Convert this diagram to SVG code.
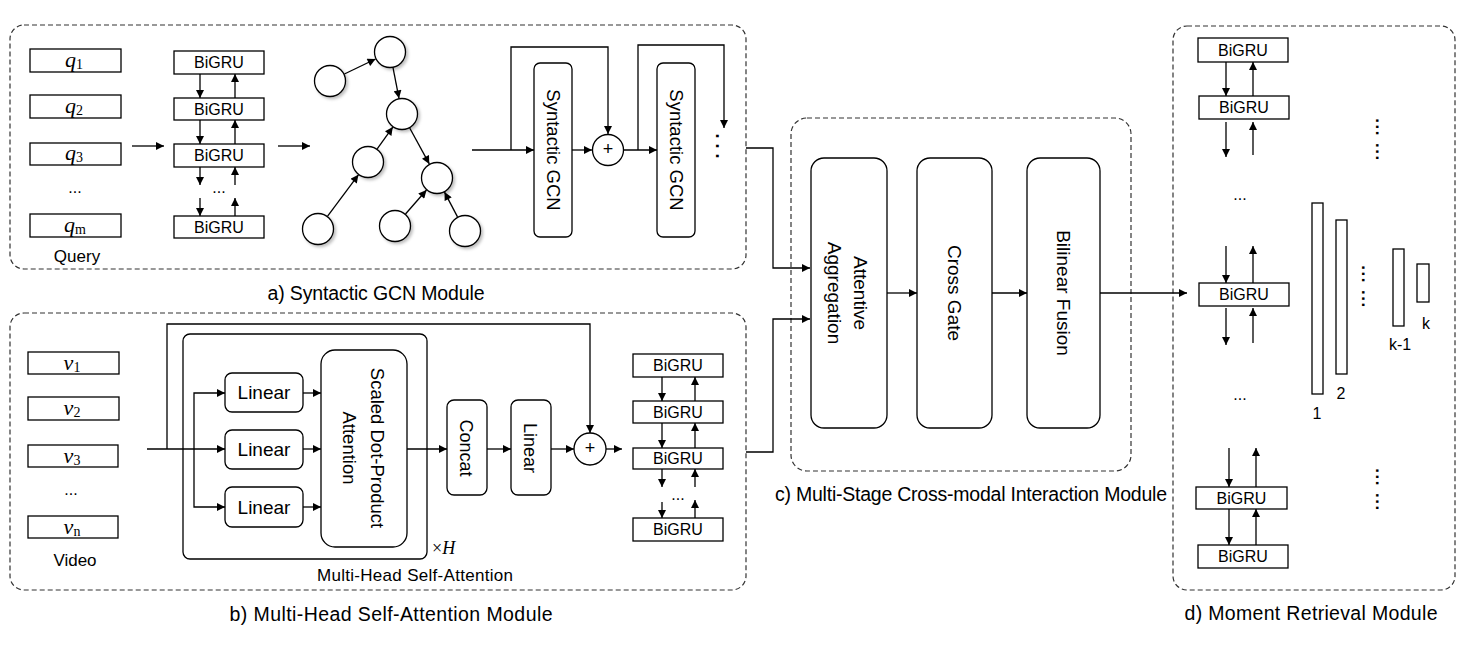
<svg xmlns="http://www.w3.org/2000/svg" width="1466" height="645" viewBox="0 0 1466 645">
<style>
.box{fill:#fff;stroke:#000;stroke-width:1.3}
.dash{fill:none;stroke:#333;stroke-width:1.2;stroke-dasharray:5 3}
.ln{fill:none;stroke:#000;stroke-width:1.3}
.a{marker-end:url(#ah)}
.t{font-family:"Liberation Sans",Arial,sans-serif;fill:#000;text-anchor:middle;dominant-baseline:central}
.cap{font-family:"Liberation Sans",Arial,sans-serif;fill:#000;text-anchor:middle;dominant-baseline:central;font-size:19.5px}
.m{font-family:"Liberation Serif","Times New Roman",serif;font-style:italic;font-size:22px;fill:#000;text-anchor:middle}
.sub{font-style:normal;font-size:14px}
.vd{font-family:"Liberation Sans",Arial,sans-serif;font-weight:bold;font-size:17px;letter-spacing:1.5px;fill:#000;text-anchor:middle;dominant-baseline:central}
.node{fill:#fff;stroke:#000;stroke-width:1.3;filter:url(#sh)}
</style>
<defs>
<marker id="ah" viewBox="0 0 10 10" refX="10" refY="5" markerWidth="9" markerHeight="8" markerUnits="userSpaceOnUse" orient="auto"><path d="M0,0 L10,5 L0,10 z" fill="#000"/></marker>
<filter id="sh" x="-30%" y="-30%" width="170%" height="170%"><feDropShadow dx="2" dy="2" stdDeviation="1.5" flood-color="#000" flood-opacity="0.25"/></filter>
</defs>
<rect width="1466" height="645" fill="#fff"/>

<!-- Module a -->
<g id="module-a">
<rect class="dash" x="10" y="25" width="736" height="244" rx="14"/>
<text class="cap" x="376" y="293" textLength="217">a) Syntactic GCN Module</text>
</g>
<g id="q1"><rect class="box" x="30" y="49" width="91" height="23"/><text class="m" x="74" y="67">q<tspan class="sub" dy="2">1</tspan></text></g>
<g id="q2"><rect class="box" x="30" y="95" width="91" height="23"/><text class="m" x="74" y="113">q<tspan class="sub" dy="2">2</tspan></text></g>
<g id="q3"><rect class="box" x="30" y="143" width="91" height="22"/><text class="m" x="74" y="160">q<tspan class="sub" dy="2">3</tspan></text></g>
<g id="qdots"><text class="t" x="75" y="187" font-size="16">...</text></g>
<g id="qm"><rect class="box" x="30" y="214" width="91" height="23"/><text class="m" x="75" y="232">q<tspan class="sub" dy="2">m</tspan></text></g>
<g id="query-label"><text class="t" x="77" y="256" font-size="17">Query</text></g>

<g id="qgru1"><rect class="box" x="174" y="51" width="90" height="23"/><text class="t" x="219" y="62.5" font-size="16">BiGRU</text></g>
<g id="qgru2"><rect class="box" x="174" y="98" width="90" height="22"/><text class="t" x="219" y="109" font-size="16">BiGRU</text></g>
<g id="qgru3"><rect class="box" x="174" y="144" width="90" height="23"/><text class="t" x="219" y="155.5" font-size="16">BiGRU</text></g>
<g id="qgrudots"><text class="t" x="219" y="187" font-size="16">...</text></g>
<g id="qgru4"><rect class="box" x="174" y="216" width="90" height="22"/><text class="t" x="219" y="227" font-size="16">BiGRU</text></g>

<g id="tree">
<circle class="node" cx="330" cy="81" r="15.5"/>
<circle class="node" cx="390" cy="52" r="15.5"/>
<circle class="node" cx="402" cy="114" r="15.5"/>
<circle class="node" cx="368" cy="162" r="15.5"/>
<circle class="node" cx="437" cy="178" r="15.5"/>
<circle class="node" cx="318" cy="229" r="15.5"/>
<circle class="node" cx="395" cy="226" r="15.5"/>
<circle class="node" cx="465" cy="231" r="15.5"/>
</g>

<g id="gcn1"><rect class="box" x="534" y="63" width="38" height="174" rx="6"/><text class="t" font-size="18.5" transform="translate(553,150) rotate(90)">Syntactic GCN</text></g>
<g id="plus1"><circle class="box" cx="608" cy="150" r="15.5"/><text class="t" x="608" y="149" font-size="18">+</text></g>
<g id="gcn2"><rect class="box" x="657" y="63" width="38" height="174" rx="6"/><text class="t" font-size="18.5" transform="translate(676,150) rotate(90)">Syntactic GCN</text></g>
<g id="gcndots"><text class="t" font-size="18" font-weight="bold" transform="translate(722,146) rotate(90)">. . .</text></g>

<!-- Module b -->
<g id="module-b">
<rect class="dash" x="10" y="313" width="736" height="277" rx="14"/>
<text class="cap" x="391" y="614" textLength="323">b) Multi-Head Self-Attention Module</text>
</g>
<g id="v1"><rect class="box" x="28" y="352" width="91" height="22"/><text class="m" x="72" y="370">v<tspan class="sub" dy="2">1</tspan></text></g>
<g id="v2"><rect class="box" x="28" y="397" width="91" height="23"/><text class="m" x="72" y="415">v<tspan class="sub" dy="2">2</tspan></text></g>
<g id="v3"><rect class="box" x="28" y="445" width="90" height="22"/><text class="m" x="72" y="463">v<tspan class="sub" dy="2">3</tspan></text></g>
<g id="vdots"><text class="t" x="71" y="489" font-size="16">...</text></g>
<g id="vn"><rect class="box" x="28" y="516" width="90" height="22"/><text class="m" x="72" y="534">v<tspan class="sub" dy="2">n</tspan></text></g>
<g id="video-label"><text class="t" x="75" y="560" font-size="17">Video</text></g>

<g id="mhsa">
<rect class="box" x="183" y="334" width="244" height="225" rx="7"/>
<text class="t" x="415" y="575" font-size="17" textLength="196">Multi-Head Self-Attention</text>
<text x="432" y="554" font-family="Liberation Serif,serif" font-size="18">×<tspan font-style="italic">H</tspan></text>
</g>
<g id="linear1"><rect class="box" x="225" y="373" width="78" height="39" rx="7"/><text class="t" x="264" y="392.5" font-size="19">Linear</text></g>
<g id="linear2"><rect class="box" x="225" y="430" width="78" height="39" rx="7"/><text class="t" x="264" y="449.5" font-size="19">Linear</text></g>
<g id="linear3"><rect class="box" x="225" y="487" width="78" height="40" rx="7"/><text class="t" x="264" y="507" font-size="19">Linear</text></g>
<g id="sdpa"><rect class="box" x="321" y="350" width="86" height="197" rx="14"/>
<text class="t" font-size="18.5" transform="translate(377,448) rotate(90)">Scaled Dot-Product</text>
<text class="t" font-size="18.5" transform="translate(349,448) rotate(90)">Attention</text></g>
<g id="concat"><rect class="box" x="447" y="400" width="40" height="95" rx="7"/><text class="t" font-size="18" transform="translate(466,448) rotate(90)">Concat</text></g>
<g id="linear4"><rect class="box" x="511" y="400" width="40" height="95" rx="7"/><text class="t" font-size="18" transform="translate(530,448) rotate(90)">Linear</text></g>
<g id="plus2"><circle class="box" cx="590" cy="449" r="16"/><text class="t" x="590" y="448" font-size="18">+</text></g>

<g id="vgru1"><rect class="box" x="633" y="354" width="90" height="23"/><text class="t" x="678" y="365.5" font-size="16">BiGRU</text></g>
<g id="vgru2"><rect class="box" x="633" y="401" width="90" height="22"/><text class="t" x="678" y="412" font-size="16">BiGRU</text></g>
<g id="vgru3"><rect class="box" x="633" y="448" width="90" height="21"/><text class="t" x="678" y="458.5" font-size="16">BiGRU</text></g>
<g id="vgrudots"><text class="t" x="678" y="494" font-size="16">...</text></g>
<g id="vgru4"><rect class="box" x="633" y="518" width="90" height="23"/><text class="t" x="678" y="529.5" font-size="16">BiGRU</text></g>

<!-- Module c -->
<g id="module-c">
<rect class="dash" x="791" y="118" width="340" height="353" rx="16"/>
<text class="cap" x="971" y="494" textLength="392">c) Multi-Stage Cross-modal Interaction Module</text>
</g>
<g id="attagg"><rect class="box" x="811" y="158" width="76" height="270" rx="13"/>
<text class="t" font-size="19" transform="translate(860,293) rotate(90)">Attentive</text>
<text class="t" font-size="19" transform="translate(834,293) rotate(90)">Aggregation</text></g>
<g id="crossgate"><rect class="box" x="917" y="158" width="75" height="270" rx="13"/><text class="t" font-size="19" transform="translate(954,293) rotate(90)">Cross Gate</text></g>
<g id="bilinear"><rect class="box" x="1027" y="158" width="73" height="270" rx="13"/><text class="t" font-size="19" transform="translate(1063,293) rotate(90)">Bilinear Fusion</text></g>

<!-- Module d -->
<g id="module-d">
<rect class="dash" x="1173" y="26" width="282" height="564" rx="14"/>
<text class="cap" x="1311" y="613" textLength="253">d) Moment Retrieval Module</text>
</g>
<g id="dgru1"><rect class="box" x="1198" y="38" width="90" height="24"/><text class="t" x="1243" y="50" font-size="16">BiGRU</text></g>
<g id="dgru2"><rect class="box" x="1199" y="96" width="90" height="23"/><text class="t" x="1244" y="107.5" font-size="16">BiGRU</text></g>
<g id="dgrudots1"><text class="t" x="1240" y="194" font-size="16">...</text></g>
<g id="dgru3"><rect class="box" x="1199" y="283" width="90" height="23"/><text class="t" x="1244" y="294.5" font-size="16">BiGRU</text></g>
<g id="dgrudots2"><text class="t" x="1240" y="394" font-size="16">...</text></g>
<g id="dgru4"><rect class="box" x="1196" y="487" width="91" height="22"/><text class="t" x="1241.5" y="498" font-size="16">BiGRU</text></g>
<g id="dgru5"><rect class="box" x="1198" y="545" width="90" height="23"/><text class="t" x="1243" y="556.5" font-size="16">BiGRU</text></g>

<g id="bar1"><rect class="box" x="1312" y="203" width="11" height="191"/><text class="t" x="1317" y="413" font-size="16">1</text></g>
<g id="bar2"><rect class="box" x="1336" y="220" width="11" height="154"/><text class="t" x="1341" y="393" font-size="16">2</text></g>
<g id="bark1"><rect class="box" x="1393" y="249" width="11" height="77"/><text class="t" x="1400" y="344" font-size="16">k-1</text></g>
<g id="bark"><rect class="box" x="1417" y="264" width="12" height="38"/><text class="t" x="1426" y="323" font-size="16">k</text></g>
<g id="ddots">
<text class="vd" transform="translate(1381,140) rotate(90)">... ...</text>
<text class="vd" transform="translate(1367,287) rotate(90)">... ...</text>
<text class="vd" transform="translate(1381,490) rotate(90)">... ...</text>
</g>

<!-- Connectors -->
<g id="connectors">
<path class="ln a" d="M132,146 H164"/>
<path class="ln a" d="M200,74 V98"/><path class="ln a" d="M235,98 V74"/>
<path class="ln a" d="M200,120 V144"/><path class="ln a" d="M235,144 V120"/>
<path class="ln a" d="M200,167 V185"/><path class="ln a" d="M235,185 V167"/>
<path class="ln a" d="M200,198 V216"/><path class="ln a" d="M235,216 V198"/>
<path class="ln a" d="M278,146 H310"/>
<path class="ln a" d="M344.4,74 L375.6,59"/>
<path class="ln a" d="M393,67.7 L399,98.3"/>
<path class="ln a" d="M377.2,148.9 L392.8,127.1"/>
<path class="ln a" d="M409.7,128 L429.3,163.9"/>
<path class="ln a" d="M327.6,216.2 L358.4,174.8"/>
<path class="ln a" d="M405.5,214 L426.5,190"/>
<path class="ln a" d="M457.5,216.9 L444.5,192.1"/>
<path class="ln a" d="M472,150 H534"/>
<path class="ln a" d="M511,150 V47 H608 V134"/>
<path class="ln a" d="M572,150 H592"/>
<path class="ln a" d="M624,150 H657"/>
<path class="ln a" d="M638,150 V45 H724 V128"/>
<path class="ln a" d="M746,148 H773 V268 H810"/>

<path class="ln a" d="M147,449 H225"/>
<path class="ln a" d="M194,449 V393 H225"/>
<path class="ln a" d="M194,449 V507 H225"/>
<path class="ln a" d="M167,449 V324 H590 V433"/>
<path class="ln a" d="M303,393 H321"/>
<path class="ln a" d="M303,449 H321"/>
<path class="ln a" d="M303,507 H321"/>
<path class="ln a" d="M407,449 H447"/>
<path class="ln a" d="M487,449 H511"/>
<path class="ln a" d="M551,449 H574"/>
<path class="ln a" d="M606,449 H622"/>
<path class="ln a" d="M662,377 V401"/><path class="ln a" d="M695,401 V377"/>
<path class="ln a" d="M662,423 V448"/><path class="ln a" d="M695,448 V423"/>
<path class="ln a" d="M662,469 V487"/><path class="ln a" d="M695,487 V469"/>
<path class="ln a" d="M662,502 V518"/><path class="ln a" d="M695,518 V500"/>
<path class="ln a" d="M746,452 H773 V319 H810"/>

<path class="ln a" d="M887,293 H917"/>
<path class="ln a" d="M992,293 H1027"/>
<path class="ln a" d="M1100,293 H1187"/>

<path class="ln a" d="M1226,62 V96"/><path class="ln a" d="M1253,96 V62"/>
<path class="ln a" d="M1226,122 V157"/><path class="ln a" d="M1253,155 V122"/>
<path class="ln a" d="M1226,246 V283"/><path class="ln a" d="M1253,283 V246"/>
<path class="ln a" d="M1226,308 V345"/><path class="ln a" d="M1253,343 V308"/>
<path class="ln a" d="M1229,448 V487"/><path class="ln a" d="M1256,487 V448"/>
<path class="ln a" d="M1229,509 V545"/><path class="ln a" d="M1256,545 V509"/>
</g>
</svg>
